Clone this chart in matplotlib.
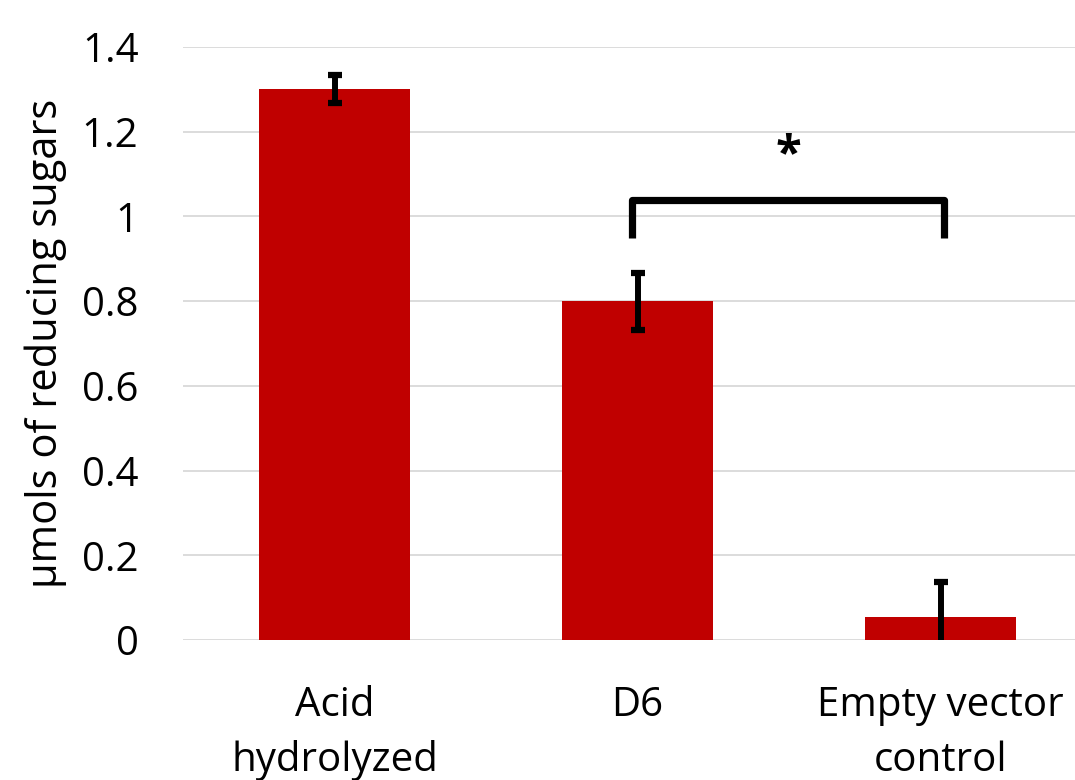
import matplotlib
matplotlib.use("Agg")
import matplotlib.pyplot as plt
from matplotlib.path import Path
from matplotlib.patches import PathPatch

categories = ["Acid\nhydrolyzed", "D6", "Empty vector\ncontrol"]
values = [1.30, 0.80, 0.054]
errors = [0.033, 0.067, 0.083]
y_ticks = [0, 0.2, 0.4, 0.6, 0.8, 1.0, 1.2, 1.4]
y_tick_labels = ["0", "0.2", "0.4", "0.6", "0.8", "1", "1.2", "1.4"]
y_label = "µmols of reducing sugars"

# significance bracket between D6 and the empty vector control
bracket_x = [0.983, 2.013]
bracket_top = 1.039
bracket_leg = 0.949
star_y = 1.143

plt.rcParams["font.family"] = ["Open Sans", "DejaVu Sans"]

W, H = 1075, 780
fig = plt.figure(figsize=(W / 100, H / 100), dpi=100)
ax = fig.add_axes([183 / W, 1 - 640 / H, 909 / W, 593 / H])

x = list(range(len(categories)))
ax.bar(x, values, width=0.5, color="#c00000", zorder=2)
ax.errorbar(x, values, yerr=errors, fmt="none", ecolor="black",
            elinewidth=4.3, capsize=4.7, capthick=4.5, zorder=3)

ax.set_xlim(-0.5, 2.5)
ax.set_ylim(0, 1.4)
ax.set_yticks(y_ticks)
ax.set_yticklabels(y_tick_labels)
ax.set_xticks(x)
ax.set_xticklabels(categories, linespacing=1.45)
ax.tick_params(axis="both", length=0, labelsize=29)
ax.tick_params(axis="y", pad=32)
ax.tick_params(axis="x", pad=33)
ax.yaxis.grid(True, color="#d9d9d9", linewidth=1.3, zorder=0)
ax.set_axisbelow(True)
for s in ax.spines.values():
    s.set_visible(False)
ax.set_ylabel(y_label, fontsize=30, labelpad=11)

verts = [(bracket_x[0], bracket_leg), (bracket_x[0], bracket_top),
         (bracket_x[1], bracket_top), (bracket_x[1], bracket_leg)]
codes = [Path.MOVETO, Path.LINETO, Path.LINETO, Path.LINETO]
ax.add_patch(PathPatch(Path(verts, codes), fill=False, edgecolor="black",
                       linewidth=5.2, joinstyle="round", capstyle="butt",
                       zorder=4, clip_on=False))
ax.text(sum(bracket_x) / 2, star_y, "*", ha="center", va="center",
        fontsize=34, fontweight="bold", color="black")

fig.savefig("out.png", dpi=100)
